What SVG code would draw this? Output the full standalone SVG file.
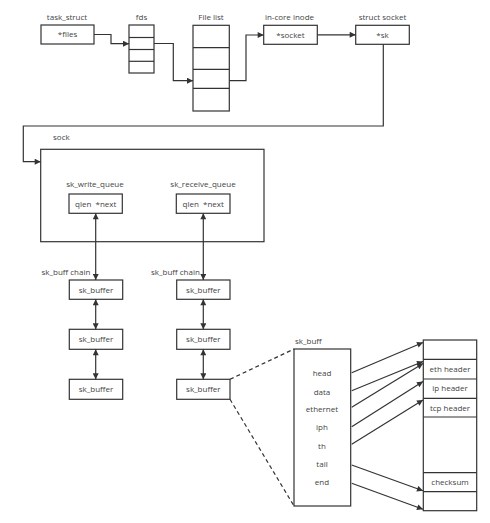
<svg xmlns="http://www.w3.org/2000/svg" width="490" height="523" viewBox="0 0 490 523">
<defs>
<marker id="ah" viewBox="0 0 10 10" refX="10" refY="5" markerWidth="8" markerHeight="6" markerUnits="userSpaceOnUse" orient="auto">
<path d="M0,0 L10,5 L0,10 z" fill="#333"/>
</marker>
<marker id="ahs" viewBox="0 0 10 10" refX="0" refY="5" markerWidth="8" markerHeight="6" markerUnits="userSpaceOnUse" orient="auto">
<path d="M10,0 L0,5 L10,10 z" fill="#333"/>
</marker>
</defs>
<style>
rect, .cell { fill: #fff; stroke: #333; stroke-width: 1.2; }
.div { stroke: #333; stroke-width: 1.2; }
text { font-family: "Open Sans", "Noto Sans", "Liberation Sans", sans-serif; font-size: 8px; fill: #444; }
.c { text-anchor: middle; }
.conn path, .conn line { fill: none; stroke: #333; stroke-width: 1.2; }
.arr { marker-end: url(#ah); }
.dbl { marker-start: url(#ahs); marker-end: url(#ah); }
.dash { stroke-dasharray: 4 3; }
</style>
<rect x="0" y="0" width="490" height="523" style="fill:#fff;stroke:none"/>

<g id="task_struct">
<text class="c" x="67" y="20">task_struct</text>
<rect x="41" y="25" width="53" height="19"/>
<text class="c" x="67.5" y="37">*files</text>
</g>

<g id="fds">
<text class="c" x="141.5" y="20">fds</text>
<rect x="129" y="25" width="25" height="48"/>
<line class="div" x1="129" y1="37.5" x2="154" y2="37.5"/>
<line class="div" x1="129" y1="49.5" x2="154" y2="49.5"/>
<line class="div" x1="129" y1="61.3" x2="154" y2="61.3"/>
</g>

<g id="file_list">
<text class="c" x="211" y="20">File list</text>
<rect x="193" y="25.3" width="36.3" height="85.7"/>
<line class="div" x1="193" y1="47.7" x2="229.3" y2="47.7"/>
<line class="div" x1="193" y1="69.3" x2="229.3" y2="69.3"/>
<line class="div" x1="193" y1="88.3" x2="229.3" y2="88.3"/>
</g>

<g id="inode">
<text class="c" x="289.5" y="20">in-core inode</text>
<rect x="263.7" y="25.3" width="53.6" height="19"/>
<text class="c" x="290.5" y="37.5">*socket</text>
</g>

<g id="struct_socket">
<text class="c" x="382.5" y="20">struct socket</text>
<rect x="355.7" y="25.3" width="53.6" height="19"/>
<text class="c" x="382.5" y="37.5">*sk</text>
</g>

<g id="sock">
<text x="53" y="140">sock</text>
<rect x="40.7" y="149.3" width="223.3" height="92.4"/>
<text class="c" x="95" y="187">sk_write_queue</text>
<rect x="69" y="194" width="53.3" height="19.3"/>
<text class="c" x="95.7" y="206.5" xml:space="preserve">qlen  *next</text>
<text class="c" x="203" y="187">sk_receive_queue</text>
<rect x="176.3" y="194" width="53.7" height="19.3"/>
<text class="c" x="203.2" y="206.5" xml:space="preserve">qlen  *next</text>
</g>

<g id="chain_left">
<text x="41.5" y="274.5">sk_buff chain</text>
<rect x="69.3" y="280" width="53.4" height="19.3"/>
<text class="c" x="96" y="292.5">sk_buffer</text>
<rect x="69.3" y="329.3" width="53.4" height="20"/>
<text class="c" x="96" y="342">sk_buffer</text>
<rect x="69.3" y="379.3" width="53.4" height="20"/>
<text class="c" x="96" y="392">sk_buffer</text>
</g>

<g id="chain_right">
<text x="151" y="274.5">sk_buff chain</text>
<rect x="176.7" y="280" width="53.3" height="19.3"/>
<text class="c" x="203.3" y="292.5">sk_buffer</text>
<rect x="176.7" y="329.3" width="53.3" height="20"/>
<text class="c" x="203.3" y="342">sk_buffer</text>
<rect x="176.7" y="379.3" width="53.3" height="20"/>
<text class="c" x="203.3" y="392">sk_buffer</text>
</g>

<g id="sk_buff">
<text x="295" y="344">sk_buff</text>
<rect x="294" y="349" width="56.7" height="157"/>
<text class="c" x="322" y="376">head</text>
<text class="c" x="322" y="394.5">data</text>
<text class="c" x="322" y="412">ethernet</text>
<text class="c" x="322" y="430">iph</text>
<text class="c" x="322" y="448.5">th</text>
<text class="c" x="322" y="467">tail</text>
<text class="c" x="322" y="485">end</text>
</g>

<g id="packet">
<rect x="423.3" y="340" width="53.4" height="170.7"/>
<line class="div" x1="423.3" y1="359.3" x2="476.7" y2="359.3"/>
<line class="div" x1="423.3" y1="379" x2="476.7" y2="379"/>
<line class="div" x1="423.3" y1="398.3" x2="476.7" y2="398.3"/>
<line class="div" x1="423.3" y1="417" x2="476.7" y2="417"/>
<line class="div" x1="423.3" y1="472.7" x2="476.7" y2="472.7"/>
<line class="div" x1="423.3" y1="491.7" x2="476.7" y2="491.7"/>
<text class="c" x="450" y="371.5">eth header</text>
<text class="c" x="450" y="391">ip header</text>
<text class="c" x="450" y="410.5">tcp header</text>
<text class="c" x="450" y="484.5">checksum</text>
</g>

<g class="conn" id="connectors">
<path class="arr" d="M94,34.5 H111 V43.7 H129"/>
<path class="arr" d="M154,43.5 H173.3 V80.7 H193"/>
<path class="arr" d="M229.3,80.7 H246 V35 H263.7"/>
<path class="arr" d="M317.3,34.8 H355.7"/>
<path class="arr" d="M383.3,44.3 V126 H23.3 V161.7 H40.7"/>
<line class="dbl" x1="95.7" y1="213.3" x2="95.7" y2="280"/>
<line class="dbl" x1="203.3" y1="213.3" x2="203.3" y2="280"/>
<line class="dbl" x1="95.7" y1="299.3" x2="95.7" y2="329.3"/>
<line class="dbl" x1="95.7" y1="349.3" x2="95.7" y2="379.3"/>
<line class="dbl" x1="203.3" y1="299.3" x2="203.3" y2="329.3"/>
<line class="dbl" x1="203.3" y1="349.3" x2="203.3" y2="379.3"/>
<line class="dash" x1="230" y1="379.3" x2="294" y2="349"/>
<line class="dash" x1="230" y1="399.3" x2="294" y2="506"/>
<line class="arr" x1="351.7" y1="372.7" x2="423" y2="342.5"/>
<line class="arr" x1="351.7" y1="390.7" x2="423" y2="361.5"/>
<line class="arr" x1="351.7" y1="407.3" x2="423" y2="363.5"/>
<line class="arr" x1="351.7" y1="426.7" x2="423" y2="381.5"/>
<line class="arr" x1="351.7" y1="444.3" x2="423" y2="400"/>
<line class="arr" x1="351.7" y1="465" x2="423" y2="490.7"/>
<line class="arr" x1="351.7" y1="483.3" x2="423" y2="509.3"/>
</g>
</svg>
